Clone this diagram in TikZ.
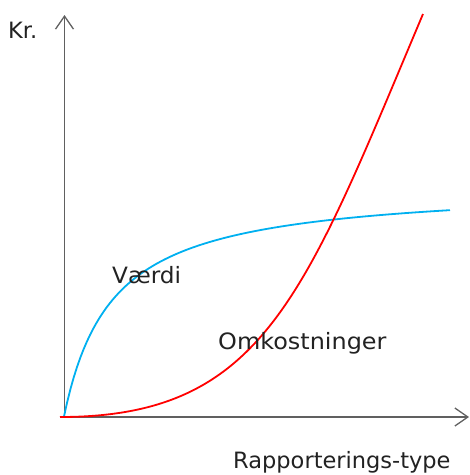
\documentclass[tikz,border=0pt]{standalone}
\usepackage{fontspec}
\setmainfont{DejaVu Sans}
\usetikzlibrary{arrows.meta}
\definecolor{axisgray}{HTML}{606060}
\definecolor{txtgray}{HTML}{222222}
\definecolor{vblue}{HTML}{00B0F0}
\definecolor{cred}{HTML}{FF0000}
\tikzset{
  axisline/.style={draw=axisgray, line width=1.6pt, -{Straight Barb[length=13pt, width=18pt, line width=1.3pt]}},
  lbl/.style={anchor=base west, inner sep=0pt, text=txtgray, font=\fontsize{22.5}{26}\selectfont},
  valcurve/.style={draw=vblue, line width=1.8pt},
  costcurve/.style={draw=cred, line width=1.8pt},
}
\begin{document}
\begin{tikzpicture}[x=1pt, y=-1pt]
\useasboundingbox (0,0) rectangle (470,475);
\coordinate (o) at (64.5,417);
\coordinate (ytop) at (64.5,15);
\coordinate (xstart) at (60,417);
\coordinate (xend) at (469,417);
\coordinate (cstart) at (60,417);
\coordinate (cend) at (423,14);
\draw[axisline] (o) -- (ytop);
\draw[axisline] (xstart) -- (xend);
\draw[valcurve] plot[domain=0:386, samples=120, variable=\t] ({64+\t},{416.5-232*(\t/(\t+48))});
\draw[costcurve] (cstart) .. controls (264,417) and (304,296) .. (cend);
\node[lbl] (kr) at (8,38) {Kr.};
\node[lbl] (vaerdi) at (112,283) {\scalebox{1.03}[1]{Værdi}};
\node[lbl] (omk) at (218,349) {\scalebox{1.063}[1]{Omkostninger}};
\node[lbl] (rap) at (233,468) {Rapporterings-type};
\end{tikzpicture}
\end{document}
